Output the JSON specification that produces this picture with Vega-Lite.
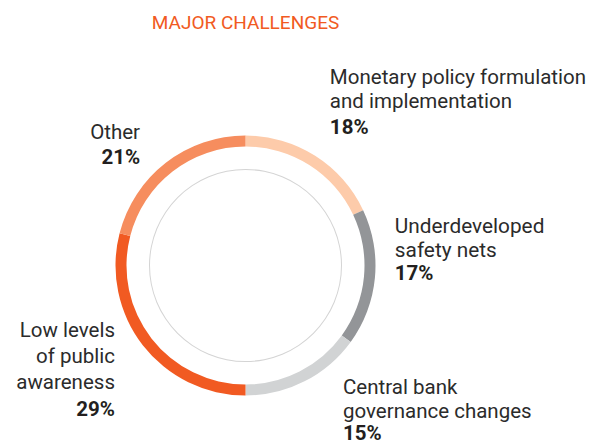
{
  "$schema": "https://vega.github.io/schema/vega-lite/v6.json",
  "width": 260,
  "height": 260,
  "autosize": {"type": "none"},
  "padding": {"left": 115.5, "top": 135.5, "right": 223.5, "bottom": 47.5},
  "background": "white",
  "config": {"view": {"stroke": null}},
  "title": {
    "text": "MAJOR CHALLENGES",
    "anchor": "middle",
    "frame": "group",
    "font": "Roboto",
    "fontSize": 19,
    "fontWeight": "normal",
    "color": "#F15A22",
    "baseline": "alphabetic",
    "offset": 20
  },
  "data": {
    "values": [
      {"name": "Monetary", "value": 18, "ord": 1, "label": "Monetary policy formulation|and implementation", "pct": "18%"},
      {"name": "Underdeveloped", "value": 17, "ord": 2, "label": "Underdeveloped|safety nets", "pct": "17%"},
      {"name": "Central", "value": 15, "ord": 3, "label": "Central bank|governance changes", "pct": "15%"},
      {"name": "Low", "value": 29, "ord": 4, "label": "Low levels|of public|awareness", "pct": "29%"},
      {"name": "Other", "value": 21, "ord": 5, "label": "Other", "pct": "21%"}
    ]
  },
  "layer": [
    {
      "data": {"values": [{"ring": "inner"}]},
      "mark": {"type": "arc", "theta": 0, "theta2": 6.2832, "innerRadius": 95.5, "outerRadius": 96.5, "fill": "#D4D4D4"},
      "encoding": {}
    },
    {
      "mark": {"type": "arc", "innerRadius": 119, "outerRadius": 130},
      "encoding": {
        "theta": {"field": "value", "type": "quantitative", "stack": true},
        "order": {"field": "ord", "type": "quantitative"},
        "color": {
          "field": "name", "type": "nominal", "legend": null,
          "scale": {"domain": ["Monetary", "Underdeveloped", "Central", "Low", "Other"],
                    "range": ["#FDCBAA", "#939598", "#D1D3D4", "#F15A22", "#F68D5E"]}
        }
      }
    },
    {
      "mark": {"type": "text", "radius": 150, "align": "left", "baseline": "alphabetic", "dx": 4, "dy": -55, "lineBreak": "|", "lineHeight": 24.5, "font": "Roboto", "fontSize": 20.5, "color": "#2B2B2B"},
      "encoding": {
        "theta": {"field": "value", "type": "quantitative", "stack": true},
        "order": {"field": "ord", "type": "quantitative"},
        "text": {"condition": {"test": "datum.name === 'Monetary'", "field": "label", "type": "nominal"}, "value": ""}
      }
    },
    {
      "mark": {"type": "text", "radius": 150, "align": "left", "baseline": "alphabetic", "dx": 4, "dy": -4.5, "font": "Roboto", "fontSize": 20.5, "fontWeight": "bold", "color": "#231F20"},
      "encoding": {
        "theta": {"field": "value", "type": "quantitative", "stack": true},
        "order": {"field": "ord", "type": "quantitative"},
        "text": {"condition": {"test": "datum.name === 'Monetary'", "field": "pct", "type": "nominal"}, "value": ""}
      }
    },
    {
      "mark": {"type": "text", "radius": 150, "align": "left", "baseline": "alphabetic", "dx": 0, "dy": -46.5, "lineBreak": "|", "lineHeight": 24, "font": "Roboto", "fontSize": 20.8, "color": "#2B2B2B"},
      "encoding": {
        "theta": {"field": "value", "type": "quantitative", "stack": true},
        "order": {"field": "ord", "type": "quantitative"},
        "text": {"condition": {"test": "datum.name === 'Underdeveloped'", "field": "label", "type": "nominal"}, "value": ""}
      }
    },
    {
      "mark": {"type": "text", "radius": 150, "align": "left", "baseline": "alphabetic", "dx": 0, "dy": 0.5, "font": "Roboto", "fontSize": 20.5, "fontWeight": "bold", "color": "#231F20"},
      "encoding": {
        "theta": {"field": "value", "type": "quantitative", "stack": true},
        "order": {"field": "ord", "type": "quantitative"},
        "text": {"condition": {"test": "datum.name === 'Underdeveloped'", "field": "pct", "type": "nominal"}, "value": ""}
      }
    },
    {
      "mark": {"type": "text", "radius": 150, "align": "left", "baseline": "alphabetic", "dx": 29.4, "dy": -5, "lineBreak": "|", "lineHeight": 24, "font": "Roboto", "fontSize": 20.5, "color": "#2B2B2B"},
      "encoding": {
        "theta": {"field": "value", "type": "quantitative", "stack": true},
        "order": {"field": "ord", "type": "quantitative"},
        "text": {"condition": {"test": "datum.name === 'Central'", "field": "label", "type": "nominal"}, "value": ""}
      }
    },
    {
      "mark": {"type": "text", "radius": 150, "align": "left", "baseline": "alphabetic", "dx": 29.4, "dy": 40.5, "font": "Roboto", "fontSize": 20.5, "fontWeight": "bold", "color": "#231F20"},
      "encoding": {
        "theta": {"field": "value", "type": "quantitative", "stack": true},
        "order": {"field": "ord", "type": "quantitative"},
        "text": {"condition": {"test": "datum.name === 'Central'", "field": "pct", "type": "nominal"}, "value": ""}
      }
    },
    {
      "mark": {"type": "text", "radius": 150, "align": "right", "baseline": "alphabetic", "dx": -12, "dy": -20.5, "lineBreak": "|", "lineHeight": 26, "font": "Roboto", "fontSize": 20.5, "color": "#2B2B2B"},
      "encoding": {
        "theta": {"field": "value", "type": "quantitative", "stack": true},
        "order": {"field": "ord", "type": "quantitative"},
        "text": {"condition": {"test": "datum.name === 'Low'", "field": "label", "type": "nominal"}, "value": ""}
      }
    },
    {
      "mark": {"type": "text", "radius": 150, "align": "right", "baseline": "alphabetic", "dx": -12, "dy": 58.5, "font": "Roboto", "fontSize": 20.5, "fontWeight": "bold", "color": "#231F20"},
      "encoding": {
        "theta": {"field": "value", "type": "quantitative", "stack": true},
        "order": {"field": "ord", "type": "quantitative"},
        "text": {"condition": {"test": "datum.name === 'Low'", "field": "pct", "type": "nominal"}, "value": ""}
      }
    },
    {
      "mark": {"type": "text", "radius": 150, "align": "right", "baseline": "alphabetic", "dx": -13.5, "dy": -8, "lineBreak": "|", "font": "Roboto", "fontSize": 20.5, "color": "#2B2B2B"},
      "encoding": {
        "theta": {"field": "value", "type": "quantitative", "stack": true},
        "order": {"field": "ord", "type": "quantitative"},
        "text": {"condition": {"test": "datum.name === 'Other'", "field": "label", "type": "nominal"}, "value": ""}
      }
    },
    {
      "mark": {"type": "text", "radius": 150, "align": "right", "baseline": "alphabetic", "dx": -13.5, "dy": 17, "font": "Roboto", "fontSize": 20.5, "fontWeight": "bold", "color": "#231F20"},
      "encoding": {
        "theta": {"field": "value", "type": "quantitative", "stack": true},
        "order": {"field": "ord", "type": "quantitative"},
        "text": {"condition": {"test": "datum.name === 'Other'", "field": "pct", "type": "nominal"}, "value": ""}
      }
    }
  ]
}
